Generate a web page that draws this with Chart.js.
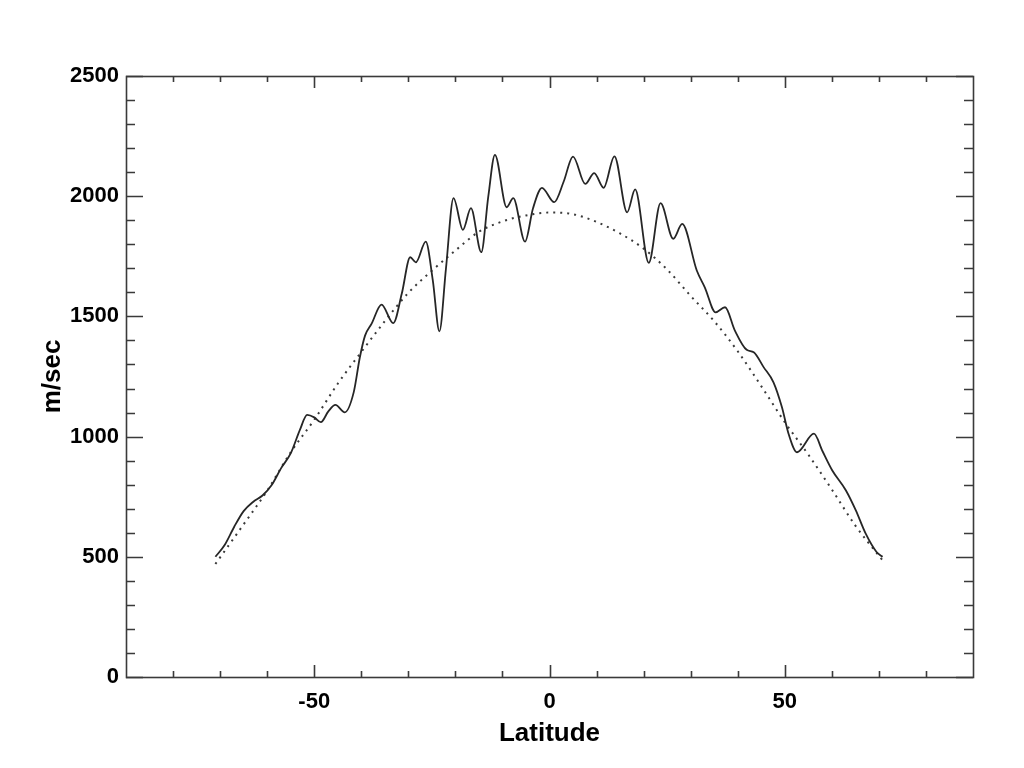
<!DOCTYPE html>
<html>
<head>
<meta charset="utf-8">
<script src="https://cdn.jsdelivr.net/npm/chart.js@4"></script>
<style>
  html, body { margin: 0; padding: 0; background: #fff; }
  #wrap { width: 1024px; height: 768px; }
</style>
</head>
<body>
<div id="wrap"><canvas id="velChart"></canvas></div>
<script>
// solid profile
const solidLat = [-71, -69, -67, -65, -63, -61, -59, -57, -55, -53, -51.5, -50, -48.6, -47, -45.5, -43.5,
  -41.6, -40.3, -39.2, -37.8, -35.7, -33.2, -31.4, -29.6, -28.4, -26.3, -24.8, -23.4, -22, -20.4,
  -18.4, -16.7, -14.5, -13, -11.6, -9.1, -7.7, -5.2, -3.5, -1.6, 1, 3, 5, 7.6, 9.5, 11.5, 13.8,
  16.5, 18.2, 21.1, 23.6, 26.3, 28.2, 31.3, 33, 35.3, 37.3, 39.4, 41.9, 43.4, 45.5, 47.6, 49.4,
  50.8, 52.6, 56.2, 58, 60.1, 63, 65.1, 67.2, 69.5, 70.8];
const solidSpeed = [500, 550, 625, 690, 728, 755, 800, 870, 930, 1030, 1090, 1080, 1060, 1105, 1132, 1101,
  1185, 1330, 1420, 1470, 1549, 1472, 1594, 1746, 1725, 1811, 1650, 1438, 1700, 1992,
  1860, 1950, 1767, 2000, 2172, 1954, 1992, 1811, 1950, 2035, 1975, 2060, 2165, 2051, 2096, 2035, 2166,
  1933, 2028, 1723, 1971, 1823, 1885, 1691, 1621, 1517, 1538, 1441, 1361, 1351, 1289, 1226, 1122,
  1012, 935, 1012, 940, 859, 776, 693, 596, 520, 500];

// dotted smooth profile
const dottedLat = [-71, -65, -60, -55, -50, -45, -40, -35, -30, -25, -20, -15, -10, -5, 0,
  5, 10, 15, 20, 25, 30, 35, 40, 45, 50, 55, 60, 65, 71];
const dottedSpeed = [470, 635, 775, 935, 1070, 1220, 1352, 1480, 1598, 1690, 1774, 1852, 1895, 1920, 1932,
  1925, 1893, 1845, 1782, 1695, 1585, 1480, 1355, 1210, 1060, 925, 780, 630, 480];

const xMajor = 50;
const yMajor = 500;

const toPoints = (xs, ys) => xs.map((x, i) => ({ x: x, y: ys[i] }));

const tickFont = { family: '"Liberation Sans", Arial, sans-serif', size: 22, weight: 'bold' };
const titleFont = { family: '"Liberation Sans", Arial, sans-serif', size: 26, weight: 'bold' };

// box frame with inward ticks on all four sides (IDL style)
const frameTicks = {
  id: 'frameTicks',
  afterDraw(chart) {
    const { ctx, chartArea: a, scales } = chart;
    ctx.save();
    ctx.strokeStyle = '#3a3a3a';
    ctx.lineWidth = 1.6;
    ctx.strokeRect(a.left + 0.5, a.top + 0.5, a.right - a.left, a.bottom - a.top);
    ctx.beginPath();
    scales.x.ticks.forEach(t => {
      const px = Math.round(scales.x.getPixelForValue(t.value)) + 0.5;
      if (px <= a.left + 1 || px >= a.right - 1) return;
      const len = t.value % xMajor === 0 ? 12 : 6;
      ctx.moveTo(px, a.bottom);
      ctx.lineTo(px, a.bottom - len);
      ctx.moveTo(px, a.top);
      ctx.lineTo(px, a.top + len);
    });
    scales.y.ticks.forEach(t => {
      const py = Math.round(scales.y.getPixelForValue(t.value)) + 0.5;
      const len = t.value % yMajor === 0 ? 17 : 9;
      ctx.moveTo(a.left, py);
      ctx.lineTo(a.left + len, py);
      ctx.moveTo(a.right, py);
      ctx.lineTo(a.right - len, py);
    });
    ctx.stroke();
    ctx.restore();
  }
};

const ctxVel = document.getElementById('velChart').getContext('2d');
new Chart(ctxVel, {
  type: 'line',
  data: {
    datasets: [{
        label: 'profile',
        data: toPoints(solidLat, solidSpeed),
        borderColor: '#262626',
        borderWidth: 1.8,
        pointRadius: 0,
        fill: false,
        cubicInterpolationMode: 'monotone'
      },
      {
        label: 'fit',
        data: toPoints(dottedLat, dottedSpeed),
        borderColor: '#3a3a3a',
        borderWidth: 2,
        borderDash: [2, 5],
        pointRadius: 0,
        fill: false,
        cubicInterpolationMode: 'monotone'
      }
    ]
  },
  plugins: [frameTicks],
  options: {
    responsive: true,
    maintainAspectRatio: false,
    animation: false,
    layout: {
      padding: { top: 76, right: 51, left: 0, bottom: 0 }
    },
    scales: {
      x: {
        type: 'linear',
        min: -90,
        max: 90,
        grid: { display: false, drawTicks: false },
        border: { display: false },
        ticks: {
          stepSize: 10,
          autoSkip: false,
          maxRotation: 0,
          padding: 12,
          color: '#000',
          font: tickFont,
          callback: v => (v % xMajor === 0 ? String(v) : '')
        },
        title: {
          display: true,
          text: 'Latitude',
          color: '#000',
          font: titleFont,
          padding: { top: 19, bottom: 19 }
        },
        afterFit: scale => { scale.height = 91; }
      },
      y: {
        min: 0,
        max: 2500,
        grid: { display: false, drawTicks: false },
        border: { display: false },
        ticks: {
          stepSize: 100,
          autoSkip: false,
          padding: 7,
          color: '#000',
          font: tickFont,
          callback: v => (v % yMajor === 0 ? String(v) : '')
        },
        title: {
          display: true,
          text: 'm/sec',
          color: '#000',
          font: titleFont,
          padding: { top: 37, bottom: 37 }
        },
        afterFit: scale => { scale.width = 126; }
      }
    },
    plugins: {
      legend: { display: false },
      tooltip: { enabled: false }
    }
  }
});
</script>
</body>
</html>
